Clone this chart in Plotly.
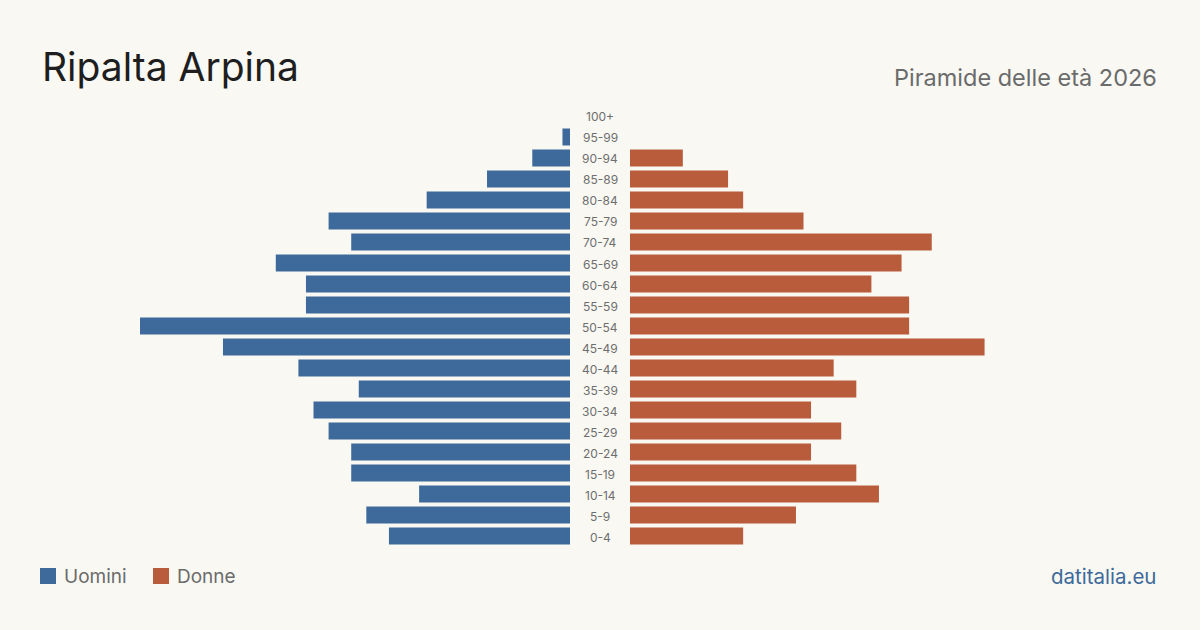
import plotly.graph_objects as go

age_groups = ["0-4", "5-9", "10-14", "15-19", "20-24", "25-29", "30-34", "35-39",
              "40-44", "45-49", "50-54", "55-59", "60-64", "65-69", "70-74",
              "75-79", "80-84", "85-89", "90-94", "95-99", "100+"]
men = [24, 27, 20, 29, 29, 32, 34, 28, 36, 46, 57, 35, 35, 39, 29, 32, 19, 11, 5, 1, 0]
women = [15, 22, 33, 30, 24, 28, 24, 30, 27, 47, 37, 37, 32, 36, 40, 23, 15, 13, 7, 0, 0]

title = "Ripalta Arpina"
subtitle = "Piramide delle età 2026"
legend_labels = ["Uomini", "Donne"]
source = "datitalia.eu"

BLUE = "#3d6a9a"
ORANGE = "#b95c3c"
BG = "#f9f8f3"
FONT = "Inter, Roboto, sans-serif"

W, H = 1200, 630
xmax = max(max(men), max(women))

fig = go.Figure()
fig.add_trace(go.Bar(y=age_groups, x=men, orientation="h", marker_color=BLUE,
                     marker_line_width=0,
                     width=0.8, xaxis="x", yaxis="y", name=legend_labels[0],
                     showlegend=False, hovertemplate="%{y}: %{x}<extra></extra>"))
fig.add_trace(go.Bar(y=age_groups, x=women, orientation="h", marker_color=ORANGE,
                     marker_line_width=0,
                     width=0.8, xaxis="x2", yaxis="y", name=legend_labels[1],
                     showlegend=False, hovertemplate="%{y}: %{x}<extra></extra>"))

ybot = 1 - 546.5 / H
ytop = 1 - 105.5 / H

fig.update_layout(
    width=W, height=H,
    margin=dict(l=0, r=0, t=0, b=0),
    paper_bgcolor=BG, plot_bgcolor=BG,
    font=dict(family=FONT),
    bargap=0.2,
    xaxis=dict(domain=[140 / W, 570 / W], range=[xmax, 0], visible=False, fixedrange=True),
    xaxis2=dict(domain=[630 / W, (630 + 430) / W], range=[0, xmax], visible=False,
                anchor="y", fixedrange=True),
    yaxis=dict(domain=[ybot, ytop], range=[-0.5, len(age_groups) - 0.5],
               type="category", categoryorder="array", categoryarray=age_groups,
               visible=False, fixedrange=True),
)

annotations = []
for g in age_groups:
    annotations.append(dict(x=0.5, xref="paper", y=g, yref="y", text=g,
                            showarrow=False, xanchor="center", yanchor="middle",
                            yshift=-1,
                            font=dict(size=12, color="#6e6e6e", family=FONT)))

annotations.append(dict(x=40 / W, y=1 - 67 / H, xref="paper", yref="paper", text=title,
                        showarrow=False, xanchor="left", yanchor="middle",
                        font=dict(size=39, color="#1e1e1e", family=FONT)))
annotations.append(dict(x=1159 / W, y=1 - 77 / H, xref="paper", yref="paper", text=subtitle,
                        showarrow=False, xanchor="right", yanchor="middle",
                        font=dict(size=23.5, color="#6b6b6b", family=FONT)))
annotations.append(dict(x=62 / W, y=1 - 576 / H, xref="paper", yref="paper", text=legend_labels[0],
                        showarrow=False, xanchor="left", yanchor="middle",
                        font=dict(size=19, color="#6b6b6b", family=FONT)))
annotations.append(dict(x=175 / W, y=1 - 576 / H, xref="paper", yref="paper", text=legend_labels[1],
                        showarrow=False, xanchor="left", yanchor="middle",
                        font=dict(size=19, color="#6b6b6b", family=FONT)))
annotations.append(dict(x=1158 / W, y=1 - 576 / H, xref="paper", yref="paper", text=source,
                        showarrow=False, xanchor="right", yanchor="middle",
                        font=dict(size=20.5, color="#3d6a9a", family=FONT)))

shapes = [
    dict(type="rect", xref="paper", yref="paper", x0=40 / W, x1=56 / W,
         y0=1 - 584 / H, y1=1 - 568 / H, fillcolor=BLUE, line=dict(width=0)),
    dict(type="rect", xref="paper", yref="paper", x0=153 / W, x1=169 / W,
         y0=1 - 584 / H, y1=1 - 568 / H, fillcolor=ORANGE, line=dict(width=0)),
]

fig.update_layout(annotations=annotations, shapes=shapes)
fig.write_html("out.html", config={"displayModeBar": False})
